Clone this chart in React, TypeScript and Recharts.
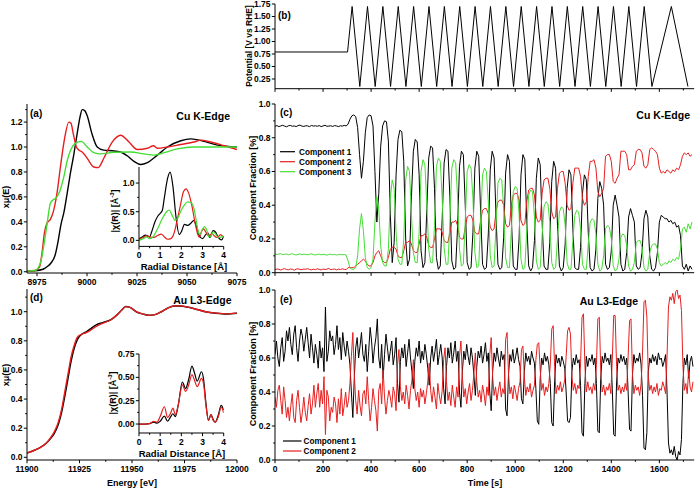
import { LineChart, Line, XAxis, YAxis } from 'recharts'

const FONT = '"Liberation Sans", Arial, Helvetica, sans-serif'
const INK = '#000000'
const RED = '#e61e1e'
const GREEN = '#44dd33'

// ---------- (a) Cu K-edge XANES ----------
const CU_BLACK_E = [8970, 8974, 8978, 8980, 8982, 8984, 8985.5, 8987, 8988.5, 8990, 8991.7, 8993.4, 8995.1, 8996.5, 8997.6, 8999, 9000.1, 9002.6, 9005.1, 9008.4, 9012.6, 9016.8, 9020.1, 9023.5, 9026.9, 9030.2, 9035.2, 9040.2, 9046.9, 9051.9, 9058.6, 9065.3, 9075]
const CU_BLACK_V = [0.005, 0.008, 0.02, 0.04, 0.07, 0.13, 0.24, 0.38, 0.48, 0.62, 0.79, 0.94, 1.11, 1.24, 1.3, 1.29, 1.25, 1.1, 1.0, 0.975, 0.97, 0.96, 0.93, 0.885, 0.86, 0.875, 0.935, 1.0, 1.05, 1.065, 1.045, 1.015, 1.0]
const CU_RED_E = [8970, 8974, 8976.3, 8977.5, 8978.7, 8980, 8981.7, 8983.3, 8985, 8986.7, 8988.7, 8990.9, 8992, 8993.1, 8994.7, 8996, 8997.6, 9000.1, 9003.4, 9005.6, 9008.4, 9012.6, 9016.8, 9021, 9025.2, 9030.2, 9033.2, 9035.2, 9040.2, 9046.9, 9053.5, 9056.8, 9061.9, 9068.6, 9075]
const CU_RED_V = [0.005, 0.01, 0.04, 0.15, 0.31, 0.39, 0.42, 0.49, 0.63, 0.84, 1.06, 1.2, 1.19, 1.11, 1.0, 0.975, 0.96, 0.91, 0.84, 0.835, 0.91, 1.04, 1.095, 1.04, 0.98, 0.99, 1.01, 0.99, 1.0, 1.02, 1.04, 1.055, 1.04, 1.01, 0.98]
const CU_GREEN_E = [8970, 8974, 8976.7, 8978.3, 8980, 8981.7, 8983, 8985, 8986.7, 8988.4, 8990.1, 8991.7, 8994.2, 8997.2, 9000.1, 9003.4, 9006.8, 9013.5, 9021.8, 9028.5, 9033.5, 9038.5, 9045.2, 9053.5, 9065.3, 9075]
const CU_GREEN_V = [0.005, 0.01, 0.07, 0.2, 0.38, 0.55, 0.575, 0.6, 0.66, 0.76, 0.89, 0.97, 1.03, 1.045, 1.0, 0.955, 0.945, 0.958, 0.96, 0.945, 0.935, 0.955, 0.985, 1.0, 1.0, 1.0]

// (a) inset, |chi(R)|
const CU_R_BLACK = [0, 0.15, 0.3, 0.4, 0.5, 0.6, 0.75, 0.9, 1.0, 1.1, 1.2, 1.35, 1.47, 1.6, 1.75, 1.9, 2.0, 2.15, 2.3, 2.45, 2.6, 2.7, 2.85, 3.0, 3.15, 3.25, 3.35, 3.5, 3.6, 3.75, 3.9, 4.0]
const CU_CHI_BLACK = [0.03, 0.06, 0.09, 0.08, 0.06, 0.15, 0.32, 0.43, 0.47, 0.52, 0.75, 1.08, 1.19, 0.95, 0.4, 0.1, 0.15, 0.28, 0.26, 0.3, 0.35, 0.25, 0.08, 0.03, 0.1, 0.13, 0.05, 0.17, 0.15, 0.05, 0.01, 0.07]
const CU_R_RED = [0, 0.2, 0.35, 0.5, 0.7, 0.9, 1.05, 1.2, 1.35, 1.5, 1.65, 1.8, 1.95, 2.1, 2.22, 2.35, 2.5, 2.65, 2.78, 2.85, 2.95, 3.05, 3.15, 3.3, 3.45, 3.55, 3.7, 3.85, 4.0]
const CU_CHI_RED = [0.02, 0.05, 0.08, 0.06, 0.05, 0.09, 0.11, 0.06, 0.02, 0.03, 0.12, 0.35, 0.6, 0.85, 0.9, 0.82, 0.6, 0.3, 0.1, 0.05, 0.15, 0.2, 0.15, 0.08, 0.12, 0.08, 0.05, 0.1, 0.05]
const CU_R_GREEN = [0, 0.2, 0.35, 0.5, 0.7, 0.9, 1.1, 1.3, 1.42, 1.55, 1.7, 1.85, 2.0, 2.15, 2.3, 2.45, 2.6, 2.7, 2.8, 2.88, 3.0, 3.1, 3.2, 3.3, 3.4, 3.5, 3.6, 3.75, 3.9, 4.0]
const CU_CHI_GREEN = [0.0, 0.03, 0.06, 0.03, 0.08, 0.22, 0.38, 0.5, 0.53, 0.45, 0.35, 0.4, 0.53, 0.62, 0.67, 0.66, 0.55, 0.35, 0.15, 0.1, 0.2, 0.24, 0.18, 0.06, 0.08, 0.15, 0.12, 0.05, 0.06, 0.08]

// ---------- (d) Au L3-edge XANES ----------
const AU_E = [11900, 11903, 11906, 11909, 11911, 11913, 11915, 11916.5, 11918, 11919.5, 11921, 11922.5, 11924, 11926, 11928, 11930, 11933, 11936, 11940, 11943, 11945, 11947, 11949, 11952, 11955, 11958, 11961, 11964, 11967, 11970, 11973, 11977, 11981, 11985, 11990, 11995, 12000]
const AU_BLACK_V = [0.03, 0.045, 0.065, 0.095, 0.125, 0.165, 0.23, 0.31, 0.42, 0.54, 0.66, 0.75, 0.81, 0.845, 0.86, 0.88, 0.91, 0.925, 0.945, 0.98, 1.01, 1.035, 1.03, 1.0, 0.985, 0.975, 0.98, 1.0, 1.025, 1.04, 1.04, 1.03, 1.015, 1.0, 0.99, 0.985, 0.99]
const AU_RED_V = [0.03, 0.045, 0.065, 0.095, 0.13, 0.175, 0.245, 0.33, 0.45, 0.57, 0.69, 0.77, 0.825, 0.845, 0.855, 0.87, 0.9, 0.92, 0.945, 0.98, 1.01, 1.035, 1.03, 1.0, 0.985, 0.975, 0.98, 1.0, 1.025, 1.04, 1.04, 1.03, 1.015, 1.0, 0.99, 0.985, 0.99]

// (d) inset
const AU_R = [0, 0.3, 0.5, 0.7, 0.85, 1.0, 1.2, 1.35, 1.5, 1.6, 1.72, 1.85, 2.05, 2.2, 2.35, 2.5, 2.62, 2.75, 2.95, 3.05, 3.15, 3.28, 3.4, 3.5, 3.6, 3.75, 3.88, 4.0]
const AU_CHI_BLACK = [0.0, 0.0, 0.005, 0.02, 0.01, 0.03, 0.085, 0.03, 0.08, 0.11, 0.08, 0.2, 0.45, 0.38, 0.48, 0.62, 0.55, 0.46, 0.56, 0.48, 0.25, 0.04, 0.1, 0.05, 0.02, 0.1, 0.2, 0.15]
const AU_CHI_RED = [0.0, 0.0, 0.005, 0.03, 0.02, 0.08, 0.185, 0.07, 0.12, 0.17, 0.1, 0.2, 0.42, 0.35, 0.42, 0.53, 0.47, 0.4, 0.49, 0.43, 0.22, 0.04, 0.1, 0.04, 0.02, 0.08, 0.18, 0.12]

// ---------- (b) potential program ----------
const POT_T = [0, 302, 321, 353, 385, 417, 449, 481, 513, 545, 577, 609, 641, 673, 705, 737, 769, 801, 833, 865, 897, 929, 961, 993, 1025, 1057, 1089, 1121, 1153, 1185, 1217, 1249, 1281, 1313, 1345, 1377, 1409, 1441, 1473, 1505, 1537, 1569, 1650, 1719]
const POT_V = [0.79, 0.79, 1.7, 0.1, 1.7, 0.1, 1.7, 0.1, 1.7, 0.1, 1.7, 0.1, 1.7, 0.1, 1.7, 0.1, 1.7, 0.1, 1.7, 0.1, 1.7, 0.1, 1.7, 0.1, 1.7, 0.1, 1.7, 0.1, 1.7, 0.1, 1.7, 0.1, 1.7, 0.1, 1.7, 0.1, 1.7, 0.1, 1.7, 0.1, 1.7, 0.1, 1.7, 0.1]

// ---------- (c) Cu LCF, one spectrum every 8 s ----------
const C_STEP = 8
const C_COMP1 = [
  0.868, 0.872, 0.866, 0.870, 0.874, 0.869, 0.865, 0.871, 0.873, 0.868,
  0.870, 0.866, 0.872, 0.875, 0.869, 0.867, 0.871, 0.870, 0.866, 0.873,
  0.869, 0.871, 0.868, 0.872, 0.866, 0.870, 0.874, 0.868, 0.869, 0.871,
  0.867, 0.872, 0.870, 0.866, 0.871, 0.869, 0.873, 0.870, 0.88, 0.91,
  0.93, 0.935, 0.925, 0.86, 0.70, 0.56, 0.66, 0.83, 0.92, 0.935,
  0.93, 0.87, 0.60, 0.30, 0.47, 0.75, 0.87, 0.90, 0.895, 0.78,
  0.35, 0.06, 0.18, 0.58, 0.79, 0.845, 0.835, 0.66, 0.20, 0.04,
  0.08, 0.45, 0.72, 0.79, 0.775, 0.58, 0.13, 0.03, 0.06, 0.38,
  0.68, 0.75, 0.74, 0.50, 0.09, 0.02, 0.04, 0.32, 0.65, 0.73,
  0.72, 0.45, 0.07, 0.02, 0.03, 0.27, 0.63, 0.72, 0.70, 0.40,
  0.06, 0.02, 0.03, 0.24, 0.62, 0.72, 0.69, 0.36, 0.05, 0.02,
  0.03, 0.23, 0.61, 0.72, 0.68, 0.34, 0.05, 0.02, 0.03, 0.21,
  0.59, 0.70, 0.66, 0.32, 0.04, 0.02, 0.02, 0.20, 0.58, 0.70,
  0.67, 0.31, 0.04, 0.01, 0.03, 0.19, 0.56, 0.68, 0.64, 0.30,
  0.04, 0.02, 0.02, 0.18, 0.54, 0.66, 0.62, 0.28, 0.04, 0.01,
  0.03, 0.17, 0.50, 0.61, 0.58, 0.26, 0.03, 0.02, 0.02, 0.15,
  0.47, 0.58, 0.55, 0.24, 0.03, 0.01, 0.02, 0.14, 0.44, 0.54,
  0.50, 0.40, 0.05, 0.02, 0.03, 0.13, 0.40, 0.46, 0.40, 0.33,
  0.05, 0.01, 0.02, 0.12, 0.33, 0.38, 0.34, 0.30, 0.04, 0.02,
  0.03, 0.12, 0.32, 0.37, 0.33, 0.10, 0.02, 0.01, 0.03, 0.12,
  0.30, 0.34, 0.33, 0.32, 0.32, 0.30, 0.31, 0.29, 0.30, 0.27,
  0.28, 0.22, 0.04, 0.02, 0.05, 0.01, 0.04, 0.02,
]
const C_COMP2 = [
  0.018, 0.022, 0.020, 0.016, 0.021, 0.024, 0.019, 0.017, 0.022, 0.020,
  0.015, 0.021, 0.023, 0.019, 0.018, 0.022, 0.020, 0.024, 0.019, 0.017,
  0.021, 0.018, 0.023, 0.020, 0.016, 0.022, 0.019, 0.021, 0.025, 0.018,
  0.020, 0.022, 0.017, 0.021, 0.019, 0.023, 0.020, 0.018, 0.03, 0.03,
  0.03, 0.03, 0.04, 0.05, 0.06, 0.07, 0.08, 0.07, 0.05, 0.04,
  0.04, 0.06, 0.10, 0.12, 0.13, 0.10, 0.07, 0.06, 0.06, 0.09,
  0.14, 0.15, 0.15, 0.14, 0.10, 0.09, 0.09, 0.13, 0.18, 0.18,
  0.19, 0.17, 0.13, 0.12, 0.12, 0.17, 0.22, 0.22, 0.23, 0.21,
  0.16, 0.15, 0.15, 0.20, 0.26, 0.26, 0.26, 0.24, 0.19, 0.18,
  0.18, 0.24, 0.30, 0.30, 0.31, 0.28, 0.21, 0.20, 0.20, 0.27,
  0.33, 0.34, 0.34, 0.31, 0.24, 0.23, 0.23, 0.31, 0.37, 0.38,
  0.38, 0.35, 0.27, 0.25, 0.26, 0.36, 0.42, 0.43, 0.43, 0.40,
  0.29, 0.27, 0.28, 0.40, 0.46, 0.47, 0.47, 0.43, 0.31, 0.28,
  0.29, 0.42, 0.49, 0.50, 0.50, 0.46, 0.33, 0.30, 0.31, 0.47,
  0.55, 0.56, 0.56, 0.50, 0.36, 0.32, 0.33, 0.50, 0.59, 0.60,
  0.60, 0.53, 0.40, 0.37, 0.38, 0.53, 0.62, 0.62, 0.62, 0.57,
  0.44, 0.40, 0.42, 0.57, 0.66, 0.66, 0.67, 0.62, 0.48, 0.45,
  0.47, 0.50, 0.69, 0.70, 0.70, 0.66, 0.54, 0.53, 0.56, 0.58,
  0.72, 0.72, 0.72, 0.70, 0.61, 0.61, 0.63, 0.64, 0.72, 0.73,
  0.73, 0.71, 0.63, 0.62, 0.64, 0.73, 0.74, 0.73, 0.72, 0.70,
  0.62, 0.59, 0.60, 0.59, 0.61, 0.60, 0.59, 0.61, 0.60, 0.62,
  0.61, 0.64, 0.69, 0.71, 0.70, 0.71, 0.69, 0.70,
]
const C_COMP3 = [
  0.112, 0.108, 0.110, 0.113, 0.107, 0.109, 0.111, 0.106, 0.110, 0.112,
  0.108, 0.105, 0.109, 0.111, 0.107, 0.110, 0.108, 0.106, 0.109, 0.112,
  0.107, 0.105, 0.108, 0.110, 0.106, 0.109, 0.107, 0.104, 0.108, 0.110,
  0.106, 0.108, 0.105, 0.107, 0.109, 0.106, 0.108, 0.105, 0.07, 0.03,
  0.02, 0.02, 0.03, 0.10, 0.26, 0.35, 0.25, 0.09, 0.03, 0.02,
  0.03, 0.08, 0.30, 0.45, 0.38, 0.16, 0.06, 0.04, 0.04, 0.14,
  0.44, 0.55, 0.50, 0.24, 0.08, 0.05, 0.05, 0.20, 0.55, 0.63,
  0.60, 0.34, 0.12, 0.06, 0.06, 0.24, 0.60, 0.67, 0.64, 0.40,
  0.14, 0.06, 0.06, 0.28, 0.63, 0.68, 0.66, 0.44, 0.15, 0.05,
  0.05, 0.30, 0.62, 0.67, 0.65, 0.45, 0.14, 0.04, 0.05, 0.31,
  0.60, 0.64, 0.62, 0.44, 0.12, 0.03, 0.04, 0.30, 0.58, 0.62,
  0.60, 0.42, 0.10, 0.03, 0.04, 0.28, 0.53, 0.56, 0.55, 0.38,
  0.09, 0.03, 0.03, 0.26, 0.48, 0.51, 0.50, 0.35, 0.08, 0.02,
  0.03, 0.25, 0.46, 0.49, 0.48, 0.33, 0.07, 0.02, 0.03, 0.22,
  0.39, 0.42, 0.41, 0.30, 0.06, 0.02, 0.03, 0.20, 0.36, 0.39,
  0.38, 0.28, 0.06, 0.02, 0.02, 0.19, 0.34, 0.37, 0.36, 0.26,
  0.05, 0.02, 0.02, 0.17, 0.30, 0.32, 0.31, 0.23, 0.05, 0.01,
  0.02, 0.10, 0.26, 0.28, 0.27, 0.20, 0.04, 0.01, 0.02, 0.08,
  0.21, 0.23, 0.22, 0.16, 0.04, 0.01, 0.02, 0.06, 0.18, 0.19,
  0.19, 0.15, 0.03, 0.01, 0.02, 0.12, 0.16, 0.17, 0.17, 0.14,
  0.06, 0.04, 0.05, 0.06, 0.05, 0.07, 0.06, 0.08, 0.07, 0.09,
  0.08, 0.14, 0.26, 0.27, 0.24, 0.29, 0.26, 0.30,
]

// ---------- (e) Au LCF, one spectrum every 6 s ----------
const E_STEP = 6
const E_COMP1 = [
  0.62, 0.70, 0.60, 0.55, 0.66, 0.72, 0.58, 0.64, 0.76, 0.70,
  0.78, 0.68, 0.62, 0.74, 0.79, 0.66, 0.58, 0.70, 0.77, 0.73,
  0.64, 0.71, 0.78, 0.69, 0.60, 0.74, 0.66, 0.57, 0.68, 0.62,
  0.54, 0.70, 0.60, 0.66, 0.52, 0.90, 0.58, 0.64, 0.76, 0.70,
  0.73, 0.62, 0.68, 0.79, 0.65, 0.72, 0.59, 0.75, 0.67, 0.61,
  0.70, 0.64, 0.56, 0.40, 0.25, 0.48, 0.66, 0.72, 0.60, 0.67,
  0.75, 0.62, 0.58, 0.68, 0.52, 0.64, 0.78, 0.70, 0.57, 0.66,
  0.72, 0.83, 0.60, 0.54, 0.68, 0.48, 0.62, 0.74, 0.66, 0.58,
  0.64, 0.70, 0.56, 0.62, 0.72, 0.45, 0.34, 0.58, 0.66, 0.60,
  0.68, 0.55, 0.63, 0.71, 0.60, 0.52, 0.42, 0.58, 0.66, 0.61,
  0.70, 0.57, 0.64, 0.59, 0.68, 0.62, 0.54, 0.44, 0.60, 0.67,
  0.58, 0.64, 0.71, 0.56, 0.62, 0.68, 0.60, 0.42, 0.33, 0.55,
  0.66, 0.60, 0.69, 0.57, 0.63, 0.70, 0.58, 0.64, 0.40, 0.31,
  0.52, 0.64, 0.59, 0.68, 0.61, 0.56, 0.66, 0.60, 0.50, 0.38,
  0.55, 0.64, 0.60, 0.67, 0.57, 0.62, 0.69, 0.58, 0.63, 0.40,
  0.29, 0.52, 0.63, 0.58, 0.66, 0.60, 0.55, 0.64, 0.59, 0.62,
  0.30, 0.26, 0.50, 0.62, 0.58, 0.65, 0.57, 0.61, 0.66, 0.59,
  0.55, 0.36, 0.33, 0.52, 0.63, 0.58, 0.61, 0.56, 0.64, 0.60,
  0.57, 0.42, 0.23, 0.21, 0.48, 0.60, 0.56, 0.63, 0.58, 0.61,
  0.56, 0.45, 0.22, 0.20, 0.46, 0.62, 0.57, 0.60, 0.55, 0.61,
  0.58, 0.54, 0.40, 0.23, 0.22, 0.25, 0.52, 0.60, 0.56, 0.62,
  0.57, 0.59, 0.44, 0.16, 0.14, 0.45, 0.61, 0.55, 0.60, 0.58,
  0.62, 0.56, 0.60, 0.45, 0.17, 0.16, 0.48, 0.61, 0.57, 0.63,
  0.58, 0.60, 0.56, 0.62, 0.42, 0.15, 0.14, 0.46, 0.60, 0.57,
  0.62, 0.58, 0.61, 0.56, 0.60, 0.40, 0.18, 0.17, 0.50, 0.62,
  0.57, 0.60, 0.58, 0.63, 0.56, 0.38, 0.07, 0.06, 0.16, 0.52,
  0.60, 0.57, 0.62, 0.58, 0.61, 0.56, 0.63, 0.59, 0.60, 0.55,
  0.58, 0.62, 0.40, 0.10, 0.04, 0.06, 0.03, 0.08, 0.02, 0.00,
  0.05, 0.03, 0.12, 0.45, 0.60, 0.56, 0.62, 0.48, 0.58, 0.61,
  0.55,
]
const E_COMP2 = [
  0.37, 0.31, 0.41, 0.44, 0.35, 0.27, 0.43, 0.35, 0.25, 0.31,
  0.23, 0.32, 0.39, 0.25, 0.22, 0.35, 0.41, 0.31, 0.22, 0.28,
  0.37, 0.28, 0.23, 0.32, 0.39, 0.27, 0.33, 0.44, 0.31, 0.39,
  0.45, 0.31, 0.41, 0.33, 0.49, 0.15, 0.41, 0.37, 0.23, 0.31,
  0.28, 0.37, 0.33, 0.22, 0.36, 0.27, 0.42, 0.26, 0.32, 0.40,
  0.31, 0.35, 0.45, 0.61, 0.75, 0.51, 0.35, 0.27, 0.41, 0.32,
  0.26, 0.39, 0.41, 0.33, 0.49, 0.35, 0.23, 0.31, 0.42, 0.35,
  0.29, 0.17, 0.41, 0.45, 0.33, 0.53, 0.37, 0.27, 0.35, 0.41,
  0.37, 0.31, 0.43, 0.39, 0.29, 0.56, 0.65, 0.43, 0.35, 0.40,
  0.33, 0.44, 0.38, 0.30, 0.41, 0.47, 0.59, 0.42, 0.35, 0.40,
  0.31, 0.42, 0.37, 0.41, 0.33, 0.39, 0.46, 0.57, 0.41, 0.34,
  0.43, 0.37, 0.30, 0.45, 0.38, 0.33, 0.41, 0.59, 0.66, 0.46,
  0.35, 0.40, 0.32, 0.44, 0.37, 0.31, 0.43, 0.37, 0.61, 0.70,
  0.49, 0.37, 0.42, 0.33, 0.40, 0.45, 0.35, 0.41, 0.51, 0.63,
  0.46, 0.37, 0.41, 0.34, 0.44, 0.39, 0.32, 0.43, 0.38, 0.62,
  0.72, 0.49, 0.38, 0.43, 0.35, 0.41, 0.46, 0.37, 0.42, 0.39,
  0.71, 0.75, 0.51, 0.39, 0.43, 0.36, 0.44, 0.40, 0.35, 0.42,
  0.46, 0.65, 0.67, 0.49, 0.38, 0.43, 0.40, 0.45, 0.37, 0.41,
  0.44, 0.59, 0.68, 0.69, 0.53, 0.41, 0.45, 0.38, 0.43, 0.40,
  0.45, 0.56, 0.77, 0.79, 0.55, 0.39, 0.44, 0.41, 0.46, 0.40,
  0.43, 0.47, 0.61, 0.76, 0.78, 0.74, 0.49, 0.41, 0.45, 0.39,
  0.44, 0.42, 0.57, 0.84, 0.86, 0.56, 0.40, 0.46, 0.41, 0.43,
  0.39, 0.45, 0.41, 0.56, 0.83, 0.84, 0.53, 0.40, 0.44, 0.38,
  0.43, 0.41, 0.45, 0.39, 0.59, 0.85, 0.85, 0.55, 0.41, 0.44,
  0.39, 0.43, 0.40, 0.45, 0.41, 0.61, 0.82, 0.83, 0.51, 0.39,
  0.44, 0.41, 0.43, 0.38, 0.45, 0.63, 0.93, 0.94, 0.84, 0.49,
  0.41, 0.44, 0.39, 0.43, 0.40, 0.45, 0.38, 0.42, 0.41, 0.46,
  0.43, 0.39, 0.61, 0.90, 0.96, 0.94, 0.98, 0.92, 0.99, 1.00,
  0.95, 0.97, 0.88, 0.56, 0.41, 0.45, 0.39, 0.53, 0.43, 0.40,
  0.46,
]

// ---------- ticks ----------
const TIME_MAJOR = [0, 200, 400, 600, 800, 1000, 1200, 1400, 1600]
const TIME_MINOR = [100, 300, 500, 700, 900, 1100, 1300, 1500, 1700]
const FRAC_MAJOR = [0, 0.2, 0.4, 0.6, 0.8, 1.0]
const FRAC_MINOR = [0.1, 0.3, 0.5, 0.7, 0.9]
const POT_MAJOR = [0.25, 0.5, 0.75, 1.0, 1.25, 1.5, 1.75]
const CU_E_MAJOR = [8975, 9000, 9025, 9050, 9075]
const CU_E_MINOR = [8987.5, 9012.5, 9037.5, 9062.5]
const CU_MU_MAJOR = [0, 0.2, 0.4, 0.6, 0.8, 1.0, 1.2]
const CU_MU_MINOR = [0.1, 0.3, 0.5, 0.7, 0.9, 1.1, 1.3]
const AU_E_MAJOR = [11900, 11925, 11950, 11975, 12000]
const AU_E_MINOR = [11912.5, 11937.5, 11962.5, 11987.5]
const AU_MU_MAJOR = [0, 0.2, 0.4, 0.6, 0.8, 1.0]
const AU_MU_MINOR = [0.1, 0.3, 0.5, 0.7, 0.9, 1.1]
const R_MAJOR = [0, 1, 2, 3, 4]
const R_MINOR = [0.5, 1.5, 2.5, 3.5]
const CU_CHI_MAJOR = [0, 0.5, 1.0]
const CU_CHI_MINOR = [0.25, 0.75]
const AU_CHI_MAJOR = [0, 0.25, 0.5, 0.75]
const AU_CHI_MINOR = [0.125, 0.375, 0.625]

const LEGEND_C = ['Component 1', 'Component 2', 'Component 3']
const LEGEND_E = ['Component 1', 'Component 2']

type Pt = { x: number; y: number }
const pairs = (xs: number[], ys: number[]): Pt[] => xs.map((x, i) => ({ x, y: ys[i] }))
const timed = (ys: number[], step: number): Pt[] => ys.map((y, i) => ({ x: i * step, y }))

type Side = 'bottom' | 'top' | 'left' | 'right'
const TICK_FS = 8.5

function tickFn(side: Side, major: number[], fmt: ((v: number) => string) | null) {
  return (p: any) => {
    const v = Number(p.payload.value)
    const isMajor = major.some((m) => Math.abs(m - v) < 1e-6)
    const len = isMajor ? 3.2 : 1.8
    const x = p.x
    const y = p.y
    let x2 = x
    let y2 = y
    if (side === 'bottom') y2 = y + len
    if (side === 'top') y2 = y - len
    if (side === 'left') x2 = x - len
    if (side === 'right') x2 = x + len
    const showLabel = fmt !== null && isMajor
    return (
      <g>
        <line x1={x} y1={y} x2={x2} y2={y2} stroke={INK} strokeWidth={1} />
        {showLabel && side === 'bottom' && (
          <text x={x} y={y + 12} textAnchor="middle" fontFamily={FONT} fontWeight={700} fontSize={TICK_FS} fill={INK}>
            {fmt!(v)}
          </text>
        )}
        {showLabel && side === 'left' && (
          <text x={x - 4.5} y={y + 3} textAnchor="end" fontFamily={FONT} fontWeight={700} fontSize={TICK_FS} fill={INK}>
            {fmt!(v)}
          </text>
        )}
      </g>
    )
  }
}

type Series = { data: Pt[]; color: string; width: number; curve?: 'linear' | 'monotone' }
type PanelProps = {
  box: [number, number, number, number]
  xDomain: [number, number]
  yDomain: [number, number]
  xMajor: number[]
  xMinor: number[]
  yMajor: number[]
  yMinor: number[]
  xFmt: ((v: number) => string) | null
  yFmt: (v: number) => string
  series: Series[]
}

const PAD = { l: 34, t: 8, r: 22, b: 22 }

function Panel({ box, xDomain, yDomain, xMajor, xMinor, yMajor, yMinor, xFmt, yFmt, series }: PanelProps) {
  const [l, t, r, b] = box
  const w = r - l
  const h = b - t
  const xTicks = [...xMajor, ...xMinor].sort((a, c) => a - c)
  const yTicks = [...yMajor, ...yMinor].sort((a, c) => a - c)
  const axisLine = { stroke: INK, strokeWidth: 1 }
  return (
    <div style={{ position: 'absolute', left: l - PAD.l, top: t - PAD.t }}>
      <LineChart width={PAD.l + w + PAD.r} height={PAD.t + h + PAD.b} margin={{ top: PAD.t, right: PAD.r, bottom: 0, left: 0 }}>
        <XAxis type="number" dataKey="x" domain={xDomain} ticks={xTicks} interval={0} allowDataOverflow height={PAD.b}
          tickLine={false} tickSize={0} tickMargin={0} axisLine={axisLine} tick={tickFn('bottom', xMajor, xFmt)} />
        <XAxis xAxisId="top" orientation="top" type="number" dataKey="x" domain={xDomain} ticks={xTicks} interval={0} allowDataOverflow height={0}
          tickLine={false} tickSize={0} tickMargin={0} axisLine={axisLine} tick={tickFn('top', xMajor, null)} />
        <YAxis type="number" domain={yDomain} ticks={yTicks} interval={0} allowDataOverflow width={PAD.l}
          tickLine={false} tickSize={0} tickMargin={0} axisLine={axisLine} tick={tickFn('left', yMajor, yFmt)} />
        <YAxis yAxisId="right" orientation="right" type="number" domain={yDomain} ticks={yTicks} interval={0} allowDataOverflow width={0}
          tickLine={false} tickSize={0} tickMargin={0} axisLine={axisLine} tick={tickFn('right', yMajor, null)} />
        {series.map((s, i) => (
          <Line key={i} data={s.data} dataKey="y" type={s.curve ?? 'linear'} stroke={s.color} strokeWidth={s.width}
            dot={false} activeDot={false} isAnimationActive={false} />
        ))}
      </LineChart>
    </div>
  )
}

const f0 = (v: number) => v.toFixed(0)
const f1 = (v: number) => v.toFixed(1)
const f2 = (v: number) => v.toFixed(2)

const txt = { fontFamily: FONT, fontWeight: 700, fill: INK } as const

function VLabel({ x, y, size, children }: { x: number; y: number; size: number; children: any }) {
  return (
    <text transform={`translate(${x},${y}) rotate(-90)`} textAnchor="middle" dominantBaseline="central" fontSize={size} {...txt}>
      {children}
    </text>
  )
}

export default function App() {
  const time: [number, number] = [0, 1745]
  return (
    <div style={{ position: 'absolute', left: 0, top: 0, width: 696, height: 489, overflow: 'hidden', background: '#fff' }}>
      {/* (a) Cu K-edge */}
      <Panel box={[26.7, 104, 236.7, 273]} xDomain={[8970, 9075]} yDomain={[-0.01, 1.345]}
        xMajor={CU_E_MAJOR} xMinor={CU_E_MINOR} yMajor={CU_MU_MAJOR} yMinor={CU_MU_MINOR} xFmt={f0} yFmt={f1}
        series={[
          { data: pairs(CU_BLACK_E, CU_BLACK_V), color: INK, width: 1.4, curve: 'monotone' },
          { data: pairs(CU_RED_E, CU_RED_V), color: RED, width: 1.4, curve: 'monotone' },
          { data: pairs(CU_GREEN_E, CU_GREEN_V), color: GREEN, width: 1.4, curve: 'monotone' },
        ]} />
      <Panel box={[139.3, 167.3, 224, 246.7]} xDomain={[0, 4]} yDomain={[-0.105, 1.28]}
        xMajor={R_MAJOR} xMinor={R_MINOR} yMajor={CU_CHI_MAJOR} yMinor={CU_CHI_MINOR} xFmt={f0} yFmt={f1}
        series={[
          { data: pairs(CU_R_BLACK, CU_CHI_BLACK), color: INK, width: 1.2, curve: 'monotone' },
          { data: pairs(CU_R_RED, CU_CHI_RED), color: RED, width: 1.2, curve: 'monotone' },
          { data: pairs(CU_R_GREEN, CU_CHI_GREEN), color: GREEN, width: 1.2, curve: 'monotone' },
        ]} />

      {/* (d) Au L3-edge */}
      <Panel box={[26.7, 289, 236.7, 460]} xDomain={[11900, 12000]} yDomain={[-0.0185, 1.156]}
        xMajor={AU_E_MAJOR} xMinor={AU_E_MINOR} yMajor={AU_MU_MAJOR} yMinor={AU_MU_MINOR} xFmt={f0} yFmt={f1}
        series={[
          { data: pairs(AU_E, AU_BLACK_V), color: INK, width: 1.5, curve: 'monotone' },
          { data: pairs(AU_E, AU_RED_V), color: RED, width: 1.4, curve: 'monotone' },
        ]} />
      <Panel box={[139.3, 354, 224, 433]} xDomain={[0, 4]} yDomain={[-0.096, 0.75]}
        xMajor={R_MAJOR} xMinor={R_MINOR} yMajor={AU_CHI_MAJOR} yMinor={AU_CHI_MINOR} xFmt={f0} yFmt={f2}
        series={[
          { data: pairs(AU_R, AU_CHI_BLACK), color: INK, width: 1.2, curve: 'monotone' },
          { data: pairs(AU_R, AU_CHI_RED), color: RED, width: 1.2, curve: 'monotone' },
        ]} />

      {/* (b) potential */}
      <Panel box={[275.3, 4, 694.5, 88.7]} xDomain={time} yDomain={[0.056, 1.75]}
        xMajor={TIME_MAJOR} xMinor={TIME_MINOR} yMajor={POT_MAJOR} yMinor={[]} xFmt={null} yFmt={f2}
        series={[{ data: pairs(POT_T, POT_V), color: INK, width: 1 }]} />

      {/* (c) Cu component fractions */}
      <Panel box={[275.3, 104, 694.5, 272.7]} xDomain={time} yDomain={[0, 1]}
        xMajor={TIME_MAJOR} xMinor={TIME_MINOR} yMajor={FRAC_MAJOR} yMinor={FRAC_MINOR} xFmt={null} yFmt={f1}
        series={[
          { data: timed(C_COMP1, C_STEP), color: INK, width: 1 },
          { data: timed(C_COMP2, C_STEP), color: RED, width: 1 },
          { data: timed(C_COMP3, C_STEP), color: GREEN, width: 1 },
        ]} />

      {/* (e) Au component fractions */}
      <Panel box={[275.3, 290, 694.5, 460]} xDomain={time} yDomain={[0, 1]}
        xMajor={TIME_MAJOR} xMinor={TIME_MINOR} yMajor={FRAC_MAJOR} yMinor={FRAC_MINOR} xFmt={f0} yFmt={f1}
        series={[
          { data: timed(E_COMP1, E_STEP), color: INK, width: 1 },
          { data: timed(E_COMP2, E_STEP), color: RED, width: 1 },
        ]} />

      <svg width={696} height={489} style={{ position: 'absolute', left: 0, top: 0, pointerEvents: 'none' }}>
        {/* panel tags and edge names */}
        <text x={30} y={117} fontSize={10} {...txt}>(a)</text>
        <text x={230} y={120} fontSize={10.5} textAnchor="end" {...txt}>Cu K-Edge</text>
        <text x={30} y={301} fontSize={10} {...txt}>(d)</text>
        <text x={231.5} y={304} fontSize={10.5} textAnchor="end" {...txt}>Au L3-Edge</text>
        <text x={278} y={19} fontSize={10} {...txt}>(b)</text>
        <text x={280} y={116} fontSize={10} {...txt}>(c)</text>
        <text x={690} y={119} fontSize={10.5} textAnchor="end" {...txt}>Cu K-Edge</text>
        <text x={280} y={303} fontSize={10} {...txt}>(e)</text>
        <text x={638} y={305} fontSize={10.5} textAnchor="end" {...txt}>Au L3-Edge</text>

        {/* axis titles */}
        <VLabel x={6} y={197} size={9}>xμ(E)</VLabel>
        <VLabel x={6} y={375} size={9}>xμ(E)</VLabel>
        <text x={132} y={486} fontSize={9} textAnchor="middle" {...txt}>Energy [eV]</text>
        <VLabel x={115} y={211} size={9}>
          |χ(R)| [Å<tspan dy={-3} fontSize={6}>-3</tspan><tspan dy={3}>]</tspan>
        </VLabel>
        <text x={184} y={269.5} fontSize={9.5} textAnchor="middle" {...txt}>Radial Distance [Å]</text>
        <VLabel x={112.5} y={393} size={9}>
          |χ(R)| [Å<tspan dy={-3} fontSize={6}>-3</tspan><tspan dy={3}>]</tspan>
        </VLabel>
        <text x={182} y={456.5} fontSize={9.5} textAnchor="middle" {...txt}>Radial Distance [Å]</text>
        <VLabel x={249} y={46} size={8.5}>Potential [V vs RHE]</VLabel>
        <VLabel x={253} y={188} size={9}>Component Fraction [%]</VLabel>
        <VLabel x={253} y={374} size={9}>Component Fraction [%]</VLabel>
        <text x={485} y={486} fontSize={9} textAnchor="middle" {...txt}>Time [s]</text>

        {/* legends */}
        {LEGEND_C.map((name, i) => (
          <g key={name}>
            <line x1={280} x2={295} y1={151.7 + i * 10} y2={151.7 + i * 10} stroke={[INK, RED, GREEN][i]} strokeWidth={1.2} />
            <text x={299} y={154.7 + i * 10} fontSize={8.2} {...txt}>{name}</text>
          </g>
        ))}
        {LEGEND_E.map((name, i) => (
          <g key={name}>
            <line x1={283} x2={301.5} y1={441 + i * 10} y2={441 + i * 10} stroke={[INK, RED][i]} strokeWidth={1.2} />
            <text x={303.5} y={444 + i * 10} fontSize={8.2} {...txt}>{name}</text>
          </g>
        ))}
      </svg>
    </div>
  )
}
